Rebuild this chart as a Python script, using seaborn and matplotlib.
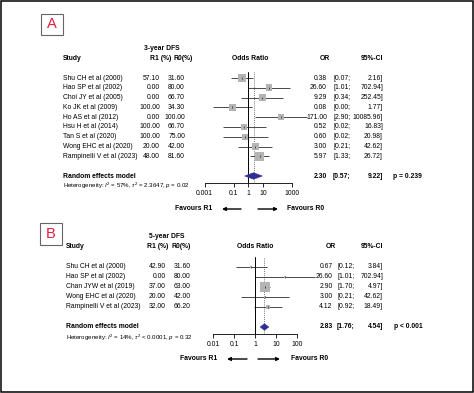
import matplotlib
matplotlib.use('Agg')
import matplotlib.pyplot as plt
import matplotlib.patches as mpatches
import seaborn as sns
import numpy as np
import pandas as pd

sns.set_theme(style='white')
plt.rcParams['font.family'] = ['Liberation Sans', 'DejaVu Sans']
plt.rcParams['mathtext.fontset'] = 'custom'
plt.rcParams['mathtext.rm'] = 'Liberation Sans'
plt.rcParams['mathtext.it'] = 'Liberation Sans:italic'

W, H = 474, 393

# ---- Panel A: 3-year DFS ----
studies_a = ['Shu CH et al (2000)', 'Hao SP et al (2002)', 'Choi JY et al (2005)',
             'Ko JK et al (2009)', 'Ho AS et al (2012)', 'Hsu H et al (2014)',
             'Tan S et al (2020)', 'Wong EHC et al (2020)', 'Rampinelli V et al (2023)']
r1_a = [57.10, 0.00, 0.00, 100.00, 0.00, 100.00, 100.00, 20.00, 48.00]
r0_a = [31.60, 80.00, 66.70, 34.30, 100.00, 66.70, 75.00, 42.00, 81.60]
or_a = [0.38, 26.60, 9.29, 0.08, 171.00, 0.52, 0.60, 3.00, 5.97]
lo_a = [0.07, 1.01, 0.34, 0.0037, 2.90, 0.02, 0.02, 0.21, 1.33]
hi_a = [2.16, 702.94, 252.45, 1.77, 10085.96, 16.83, 20.98, 42.62, 26.72]
wt_a = [14, 11, 11, 11, 10, 8, 8, 11, 19]
pooled_a = (2.30, 0.57, 9.22)
pval_a = 'p = 0.239'
het_a = r'Heterogeneity: $I^2$ = 57%, $\tau^2$ = 2.3647, $p$ = 0.02'
ticks_a = [0.001, 0.1, 1, 10, 1000]
tick_labels_a = ['0.001', '0.1', '1', '10', '1000']

# ---- Panel B: 5-year DFS ----
studies_b = ['Shu CH et al (2000)', 'Hao SP et al (2002)', 'Chan JYW et al (2019)',
             'Wong EHC et al (2020)', 'Rampinelli V et al (2023)']
r1_b = [42.90, 0.00, 37.00, 20.00, 32.00]
r0_b = [31.60, 80.00, 63.00, 42.00, 66.20]
or_b = [0.67, 26.60, 2.90, 3.00, 4.12]
lo_b = [0.12, 1.01, 1.70, 0.21, 0.92]
hi_b = [3.84, 702.94, 4.97, 42.62, 18.49]
wt_b = [4.5, 2.0, 80, 3.5, 10]
pooled_b = (2.83, 1.76, 4.54)
pval_b = 'p < 0.001'
het_b = r'Heterogeneity: $I^2$ = 14%, $\tau^2$ < 0.0001, $p$ = 0.32'
ticks_b = [0.01, 0.1, 1, 10, 100]
tick_labels_b = ['0.01', '0.1', '1', '10', '100']

FS = 4.9
SQ = '#b4b4b4'
NAVY = '#2e2f8e'


def fx(x):
    return x / W


def fy(y):
    return 1 - y / H


fig = plt.figure(figsize=(W / 100, H / 100), dpi=100)


def txt(x, y, s, ha='left', bold=False, size=FS):
    fig.text(fx(x), fy(y), s, ha=ha, va='center', fontsize=size,
             fontweight='bold' if bold else 'normal', color='black')


def panel(cfg):
    n = len(cfg['studies'])
    row_y = lambda i: cfg['y0'] + cfg['dy'] * i
    # letter box
    bx0, by0, bx1, by1 = cfg['box']
    fig.patches.append(mpatches.Rectangle((fx(bx0), fy(by1)), fx(bx1 - bx0), (by1 - by0) / H,
                                          transform=fig.transFigure, fill=False,
                                          edgecolor='#666666', lw=0.8))
    fig.text(fx((bx0 + bx1) / 2), fy((by0 + by1) / 2), cfg['letter'],
             ha='center', va='center', fontsize=10.5, color='#e31b3b')
    # headers
    txt(cfg['title_x'], cfg['title_y'], cfg['title'], ha='center', bold=True)
    hy = cfg['head_y']
    txt(cfg['lab_x'], hy, 'Study', bold=True)
    txt(cfg['r1h_x'], hy, 'R1 (%)', bold=True)
    txt(cfg['r0h_x'], hy, 'R0(%)', bold=True)
    txt(cfg['orh_x'], hy, 'Odds Ratio', ha='center', bold=True)
    txt(cfg['or_hx'], hy, 'OR', ha='right', bold=True)
    txt(383, hy, '95%-CI', ha='right', bold=True)
    for i in range(n):
        y = row_y(i)
        txt(cfg['lab_x'], y, cfg['studies'][i])
        txt(cfg['r1_x'], y, f"{cfg['r1'][i]:.2f}", ha='right')
        txt(cfg['r0_x'], y, f"{cfg['r0'][i]:.2f}", ha='right')
        txt(cfg['or_x'], y, f"{cfg['or'][i]:.2f}", ha='right')
        txt(cfg['ci_x'], y, f"[{cfg['lo'][i]:.2f};")
        txt(cfg['ci_r'], y, f"{cfg['hi'][i]:.2f}]", ha='right')
    pe, pl, ph = cfg['pooled']
    yp = row_y(cfg['pool_i'])
    txt(cfg['lab_x'], yp, 'Random effects model', bold=True)
    txt(cfg['or_x'], yp, f"{pe:.2f}", ha='right', bold=True)
    txt(cfg['ci_x'], yp, f"[{pl:.2f};", bold=True)
    txt(cfg['ci_r'], yp, f"{ph:.2f}]", ha='right', bold=True)
    txt(cfg['p_x'], yp, cfg['pval'], bold=True)
    txt(cfg['lab_x'], cfg['het_y'], cfg['het'], size=4.4)

    # forest axes
    x0, x1 = cfg['ax_px']
    top, bot = cfg['ax_top'], cfg['ax_bot']
    ax = fig.add_axes([fx(x0), fy(bot), (x1 - x0) / W, (bot - top) / H])
    ax.set_xscale('log')
    ax.set_xlim(cfg['ticks'][0], cfg['ticks'][-1])
    ax.set_ylim((bot - cfg['y0']) / cfg['dy'], (top - cfg['y0']) / cfg['dy'])
    ax.patch.set_alpha(0)
    df = pd.DataFrame({'or': cfg['or'], 'row': np.arange(n), 'w': cfg['wt']})
    ax.hlines(df['row'], cfg['lo'], cfg['hi'], color='#1a1a1a', lw=0.55, clip_on=False, zorder=2)
    wmin, wmax = min(cfg['wt']), max(cfg['wt'])
    sns.scatterplot(data=df, x='or', y='row', size='w', sizes=(wmin * cfg['k'], wmax * cfg['k']),
                    marker='s', color=SQ, edgecolor='none', legend=False, ax=ax,
                    clip_on=False, zorder=3)
    ax.scatter(df['or'], df['row'], marker='|', s=3, color='#222222', lw=0.5, zorder=4, clip_on=False)
    ax.axvline(1, color='black', lw=0.7, zorder=1)
    ax.axvline(pe, color='#444444', lw=0.6, ls=(0, (1, 1.5)), zorder=1)
    hh = cfg['dia_h']
    pi = cfg['pool_i']
    ax.add_patch(mpatches.Polygon([(pl, pi), (pe, pi - hh), (ph, pi), (pe, pi + hh)],
                                  closed=True, facecolor=NAVY, edgecolor=NAVY, lw=0.4, zorder=5))
    for s in ['top', 'left', 'right']:
        ax.spines[s].set_visible(False)
    ax.spines['bottom'].set_color('black')
    ax.spines['bottom'].set_linewidth(0.6)
    ax.set_xticks(cfg['ticks'])
    ax.set_xticklabels(cfg['tick_labels'])
    ax.minorticks_off()
    ax.tick_params(axis='x', bottom=True, length=3, width=0.6, color='black',
                   labelsize=FS, pad=2.2, labelcolor='black')
    ax.set_yticks([])
    ax.set_xlabel('')
    ax.set_ylabel('')
    ax.grid(False)

    # favours
    fyv = cfg['fav_y']
    txt(cfg['fav1_r'], fyv, 'Favours R1', ha='right', bold=True)
    txt(cfg['fav0_l'], fyv, 'Favours R0', bold=True)
    ap = dict(arrowstyle='-|>', lw=1.0, color='black', mutation_scale=5, shrinkA=0, shrinkB=0)
    a1, a2 = cfg['arr_l']
    fig.add_artist(mpatches.FancyArrowPatch((fx(a2), fy(fyv)), (fx(a1), fy(fyv)),
                                            transform=fig.transFigure, **ap))
    b1, b2 = cfg['arr_r']
    fig.add_artist(mpatches.FancyArrowPatch((fx(b1), fy(fyv)), (fx(b2), fy(fyv)),
                                            transform=fig.transFigure, **ap))


panel(dict(studies=studies_a, r1=r1_a, r0=r0_a, lo=lo_a, hi=hi_a, wt=wt_a,
           pooled=pooled_a, pval=pval_a, het=het_a, ticks=ticks_a, tick_labels=tick_labels_a,
           letter='A', box=(41, 14, 62.5, 35), title='3-year DFS', title_x=161.5, title_y=48,
           head_y=59, lab_x=63, r1h_x=150, r0h_x=174, orh_x=250.5, or_hx=330,
           y0=78, dy=9.8, pool_i=10, het_y=186,
           r1_x=160, r0_x=185, or_x=327, ci_x=333, ci_r=383, p_x=393,
           ax_px=(204.5, 292), ax_top=72, ax_bot=182.5, k=2.2, dia_h=0.33,
           fav_y=209, fav1_r=212, fav0_l=287, arr_l=(222, 241), arr_r=(258, 278),
           **{'or': or_a}))

panel(dict(studies=studies_b, r1=r1_b, r0=r0_b, lo=lo_b, hi=hi_b, wt=wt_b,
           pooled=pooled_b, pval=pval_b, het=het_b, ticks=ticks_b, tick_labels=tick_labels_b,
           letter='B', box=(40, 223, 62, 245), title='5-year DFS', title_x=166.5, title_y=236,
           head_y=247, lab_x=65.5, r1h_x=147, r0h_x=172, orh_x=255, or_hx=336,
           y0=267, dy=10, pool_i=6, het_y=338,
           r1_x=166, r0_x=190.5, or_x=332.5, ci_x=337, ci_r=383, p_x=394,
           ax_px=(213, 297), ax_top=257, ax_bot=334, k=0.6, dia_h=0.33,
           fav_y=359, fav1_r=217, fav0_l=291, arr_l=(227, 247), arr_r=(258, 280),
           **{'or': or_b}))

# outer frame
fig.patches.append(mpatches.Rectangle((fx(1), fy(391.5)), fx(471.5), 390.5 / H,
                                      transform=fig.transFigure, fill=False,
                                      edgecolor='black', lw=1.1))

fig.savefig('out.png', dpi=100, facecolor='white')
